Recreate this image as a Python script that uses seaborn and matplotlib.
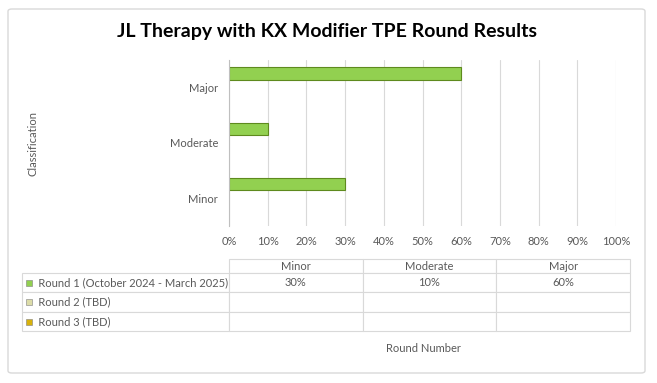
import numpy as np
import pandas as pd
import seaborn as sns
import matplotlib.pyplot as plt
from matplotlib.patches import FancyBboxPatch
from matplotlib.ticker import PercentFormatter

# data
categories = ["Minor", "Moderate", "Major"]
series = ["Round 1 (October 2024 - March 2025)", "Round 2 (TBD)", "Round 3 (TBD)"]
round1 = [0.30, 0.10, 0.60]
round2 = [np.nan, np.nan, np.nan]
round3 = [np.nan, np.nan, np.nan]
series_colors = ["#92D050", "#DCDCA8", "#D8B20C"]

rows = []
for name, vals in zip(series, [round1, round2, round3]):
    for cat, v in zip(categories, vals):
        rows.append({"Classification": cat, "Round": name, "value": v})
df = pd.DataFrame(rows)

sns.set_style("white")
plt.rcParams["font.family"] = ["Lato", "DejaVu Sans"]
txt_gray = "#595959"

fig = plt.figure(figsize=(6.57, 3.83), dpi=100)
W, H = 657, 383

# outer chart border
fig.add_artist(FancyBboxPatch((8 / W, 10 / H), 637 / W, 364 / H,
                              boxstyle="round,pad=0,rounding_size=0.006",
                              transform=fig.transFigure, fill=False,
                              edgecolor="#D9D9D9", linewidth=1))

ax = fig.add_axes([229 / W, 1 - 226 / H, 387 / W, 166 / H])
sns.barplot(data=df, x="value", y="Classification", hue="Round",
            order=categories[::-1], hue_order=series, palette=series_colors,
            saturation=1, width=0.76, gap=0.12, errorbar=None, legend=False,
            edgecolor="#5E8A1E", linewidth=0.8, ax=ax)

ax.set_xlim(0, 1)
ax.set_xticks(np.arange(0, 1.01, 0.1))
ax.xaxis.set_major_formatter(PercentFormatter(1.0, decimals=0))
ax.grid(axis="x", color="#D9D9D9", linewidth=0.8)
ax.set_axisbelow(True)
for s in ["top", "right", "bottom"]:
    ax.spines[s].set_visible(False)
ax.spines["left"].set_color("#BFBFBF")
ax.spines["left"].set_linewidth(0.8)
ax.tick_params(axis="x", length=0, pad=7, labelsize=8, labelcolor=txt_gray)
ax.tick_params(axis="y", length=0, pad=8, labelsize=8, labelcolor=txt_gray)
ax.set_xlabel("")
ax.set_ylabel("")

fig.text(327 / W, 1 - 32 / H, "JL Therapy with KX Modifier TPE Round Results",
         ha="center", va="center", fontsize=14, fontweight="bold", color="black")
fig.text(33 / W, 1 - 143 / H, "Classification", rotation=90, ha="center",
         va="center", fontsize=8, color=txt_gray)
fig.text(423 / W, 1 - 348 / H, "Round Number", ha="center", va="center",
         fontsize=8, color=txt_gray)

# data table below the chart
tax = fig.add_axes([22 / W, 1 - 331 / H, 608 / W, 72 / H])
tax.axis("off")
cell_text = [["", *categories]]
for name, vals in zip(series, [round1, round2, round3]):
    cell_text.append(["     " + name] + ["" if np.isnan(v) else f"{v:.0%}" for v in vals])
col_w = [207 / 608] + [133.67 / 608] * 3
tbl = tax.table(cellText=cell_text, colWidths=col_w, cellLoc="center",
                bbox=[0, 0, 1, 1])
tbl.auto_set_font_size(False)
tbl.set_fontsize(8)
row_h = [14, 19, 20, 19]
for (r, c), cell in tbl.get_celld().items():
    cell.set_height(row_h[r])
    cell.set_edgecolor("#D9D9D9")
    cell.set_linewidth(0.8)
    cell.get_text().set_color(txt_gray)
    if c == 0:
        cell.get_text().set_ha("left")
        cell.PAD = 0.01
    if r == 0 and c == 0:
        cell.visible_edges = ""
# legend keys next to series names
key_y = [(331 - 282.5) / 72, (331 - 302) / 72, (331 - 321.5) / 72]
for ky, col in zip(key_y, series_colors):
    tax.scatter([7 / 608], [ky], marker="s", s=22, color=col,
                edgecolor="#7F7F7F", linewidth=0.4, transform=tax.transAxes,
                clip_on=False, zorder=5)

fig.savefig("out.png", dpi=100)
